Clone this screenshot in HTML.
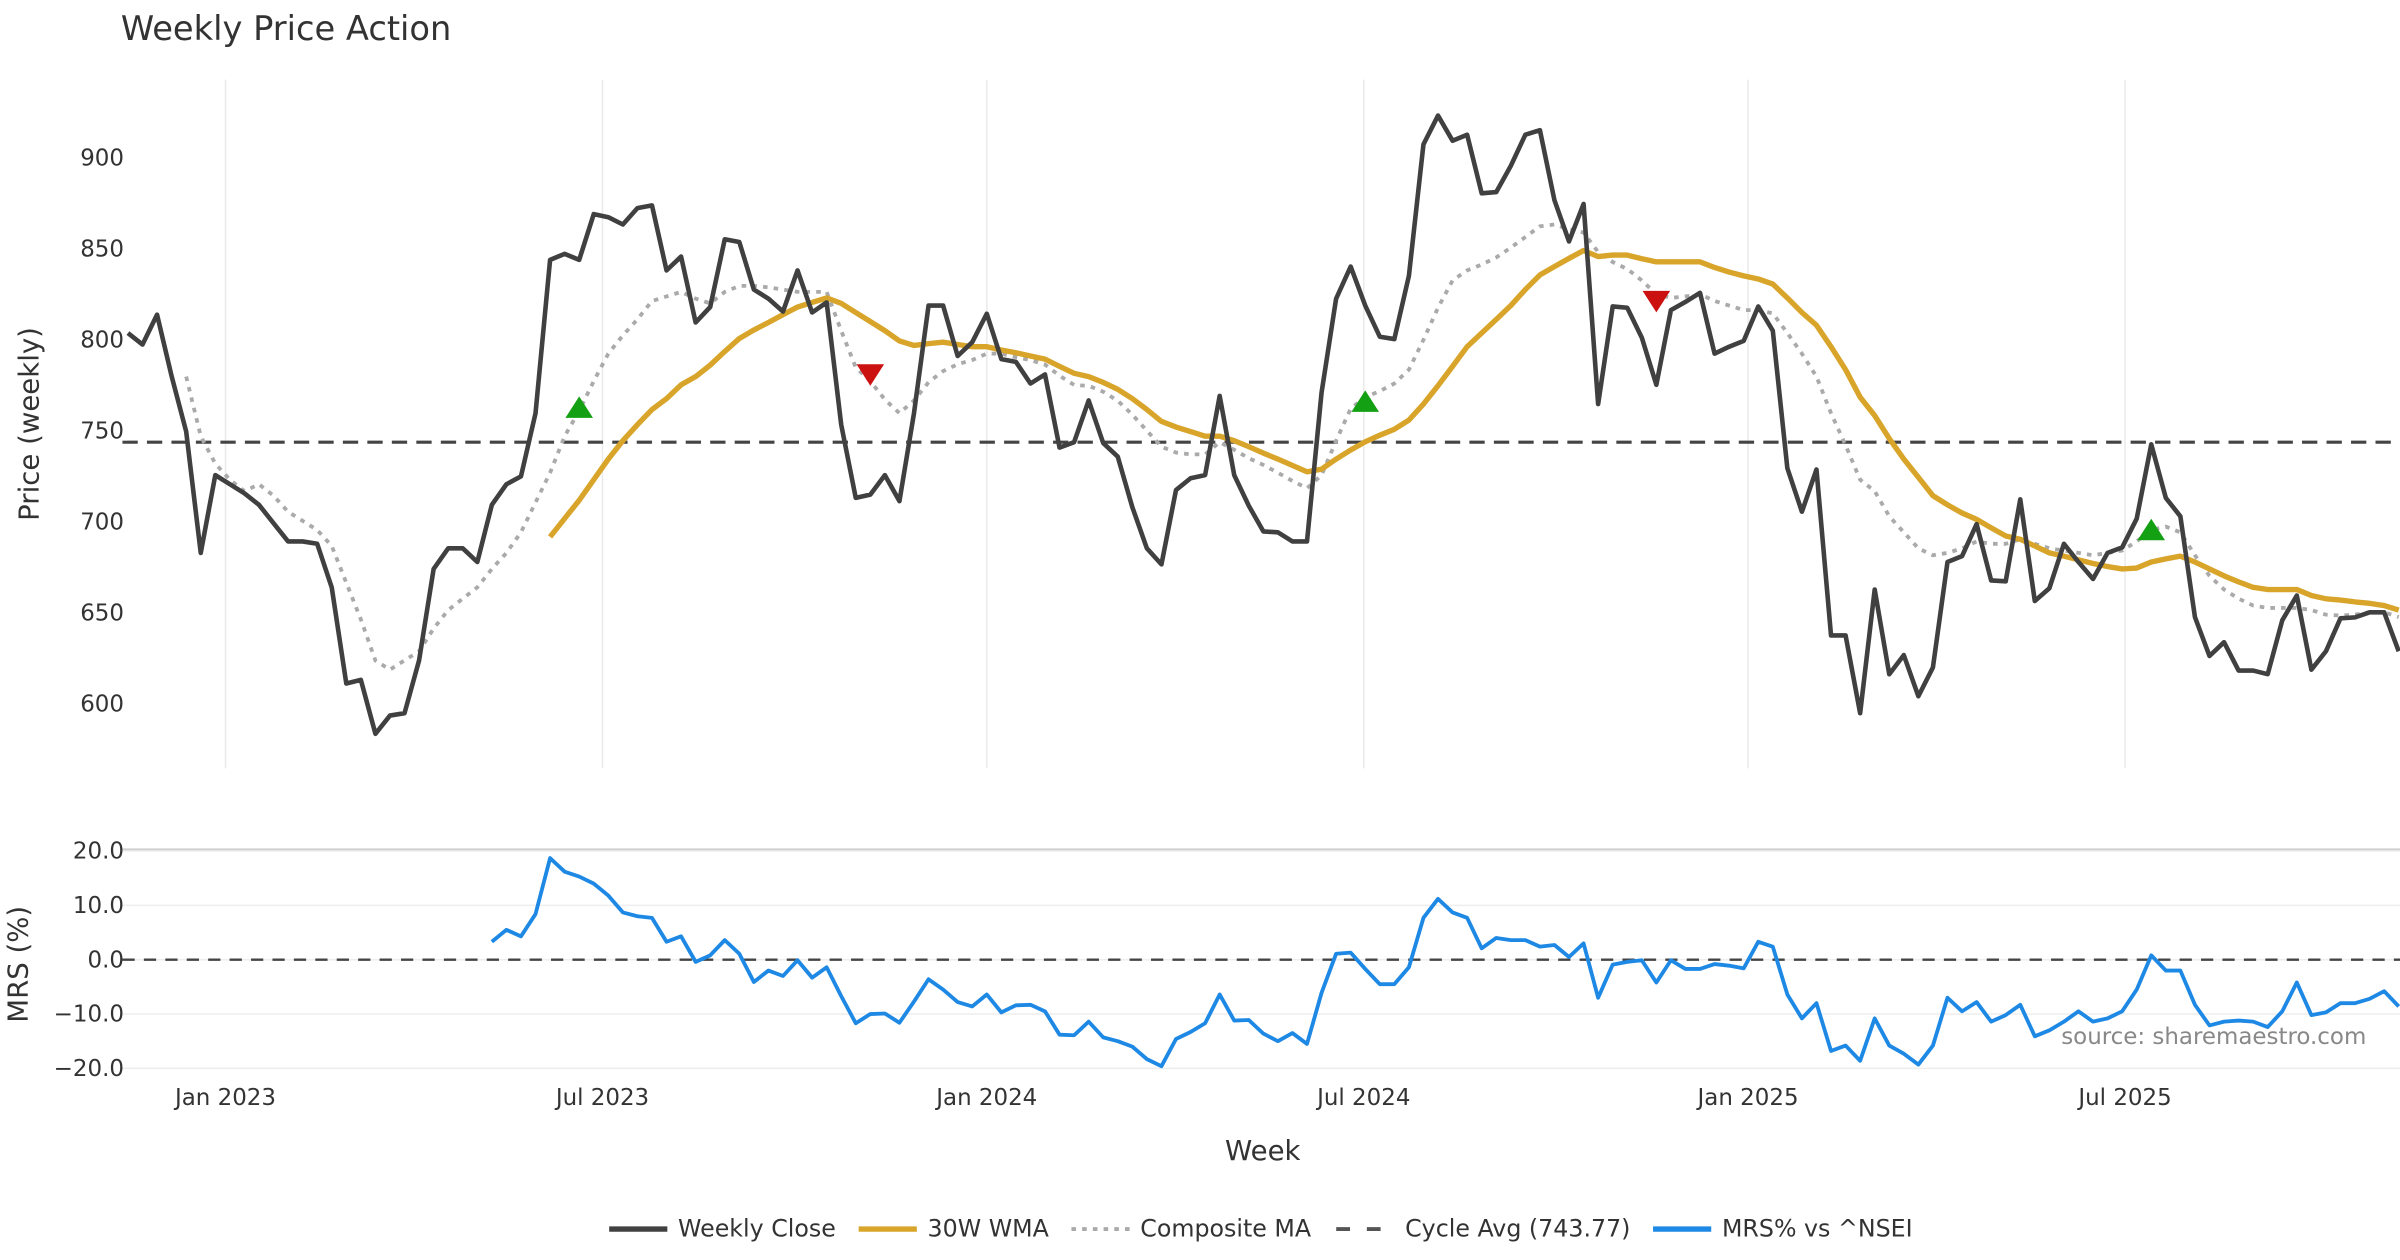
<!DOCTYPE html>
<html><head><meta charset="utf-8"><style>
html,body{margin:0;padding:0;background:#fff;}
svg{display:block;font-family:"DejaVu Sans","Liberation Sans",sans-serif;}
</style></head><body>
<svg id="chart" width="2400" height="1260" viewBox="0 0 1568 823.2" xmlns="http://www.w3.org/2000/svg">
<text x="79" y="26" font-size="22" fill="#333">Weekly Price Action</text>
<g id="price-panel"></g>
<g id="mrs-panel"></g>
<text transform="translate(25,277) rotate(-90)" text-anchor="middle" font-size="18" fill="#333">Price (weekly)</text>
<text transform="translate(18,630) rotate(-90)" text-anchor="middle" font-size="18" fill="#333">MRS (%)</text>
<text x="825" y="758" text-anchor="middle" font-size="18" fill="#333">Week</text>
<text x="1546" y="682" text-anchor="end" font-size="15" fill="#888">source: sharemaestro.com</text>
<g id="legend"></g>
</svg>
<script>
const closeValues=[803.7,797.4,813.8,780,749.6,683,725.7,720.7,715.7,709.4,699.3,689.3,689.3,688,664,611.3,613.3,583.7,593.7,595,624,674.2,685.5,685.5,678,709.4,720.7,725,759.7,843.9,847.2,843.9,869,867.3,863.3,872.3,873.8,838.1,845.7,809.5,818,855.2,853.7,827.6,822.6,815.5,838.1,815,820.5,753.4,713.2,715,725.7,711.4,
759.7,818.8,818.8,791.1,798.7,814.3,789.4,787.9,776,781,740.8,743.8,766.7,743.3,735.8,708.1,685.5,676.7,717.5,724,725.7,769.2,725.7,708.9,694.8,694.3,689.3,689.3,771,822.6,840.2,818.8,801.7,800.4,835.1,907.3,923.1,909.3,912.6,880.4,881.1,895.5,912.6,915.1,876.6,854,874.6,764.7,818.3,817.6,801.2,
775.3,816.3,820.8,825.8,792.4,796.2,799.4,818.3,805,729.5,705.6,728.8,637.7,637.7,595,662.9,616.4,626.9,604.3,620.1,678,681.2,698.8,667.9,667.4,712.4,656.6,663.6,688,678,668.7,683,686,701.8,742.6,713.2,703.1,647.8,626.4,634,618.4,618.4,616.4,646,659.6,618.9,629,647.1,647.6,650.4,650.4,629];
const wmaStart=29;
const wmaValues=[691.8,701.9,711.9,723.2,734.5,744.6,753.4,761.7,767.7,775.3,779.8,786.1,793.6,800.7,805.4,809.5,813.8,818,820.5,823,820,815,810,805,799.4,
796.9,797.9,798.7,797.4,796.2,796.2,794.4,792.9,791.1,789.4,785.4,781.6,779.8,776.6,772.8,767.7,761.7,755.2,752.1,749.6,747.1,747.1,744.6,741.3,737.8,734.5,731,727.5,729,734.5,739.5,744,747.6,750.9,755.9,764.7,774.8,785.4,796.2,803.7,811.2,818.8,827.6,835.6,840.2,844.7,849,845.7,846.5,846.5,844.5,
842.8,842.8,842.8,842.8,839.7,837.2,835.1,833.4,830.6,823,815,808,796.2,783.6,768.5,758.4,745.8,734.5,724.5,714.4,709.4,704.9,701.4,696.8,692.3,690.5,686.8,683,681.2,679.2,677.2,675.5,674.2,674.7,678,679.7,681.2,678,674.2,670.4,667.1,664.1,662.9,662.9,662.9,659.6,657.8,657.1,656.1,655.3,654.1,651.6];
const compStart=4;
const compValues=[779.8,747.1,732,723.2,716.9,720.7,714.4,705.6,700.6,695.6,686.8,666.6,646.5,623.9,618.9,624,629,641.5,651.6,657.9,664.1,674.2,683,694.3,710.7,727,747.1,761,777.3,792.4,802.4,811.2,821.3,823.8,826.3,822.6,820,826.3,829.6,829.6,828.8,827.6,826.3,826.3,826.3,805,784.8,777.3,767.2,759.7,
766.7,776.7,782.8,786.6,788.9,792.4,792.4,790.4,788.9,786.4,780.3,775.2,774.7,771.5,766.5,758.9,750.1,741.3,738.1,737.1,737.1,743.8,739.6,735,731.3,727,722.5,718.5,725.7,744.6,762.2,768.5,771.8,776,783.6,800,817.6,832.6,838.1,841.3,845.2,850.6,856.4,862.3,863.3,860.7,858.9,848.2,842.7,838.9,832.6,
825,823,823.8,825,821.3,818.8,816.3,816.3,814.5,803.7,792.4,779.8,759.7,742.1,723.2,716.9,703.1,694.3,685.5,681.7,683,685.5,689.3,688,688,690.5,688,685.5,684.3,683,681.7,683,684.3,689.3,695.6,697.4,694.3,681.7,670.4,662.9,657.9,654.1,652.8,652.8,652.8,651.6,649.1,648.6,649.1,650.4,650.4,647.8];
const cycleAvg=743.77;
const buyIdx=[31,85,139];
const buyVals=[762.2,765.5,695];
const sellIdx=[51,105];
const sellVals=[781.5,821.8];
const mrsStart=25;
const mrsValues=[3.3,5.5,4.3,8.4,18.7,16.2,15.3,14.0,11.8,8.7,8.0,7.7,3.3,4.3,-0.4,0.8,3.6,1.1,-4.1,-2.0,-3.0,-0.1,-3.3,-1.4,-6.7,-11.7,-10.0,-9.9,-11.6,-7.7,-3.6,-5.5,-7.8,-8.6,-6.4,-9.7,-8.4,-8.3,-9.5,-13.8,-13.9,-11.4,-14.3,-15.0,-16.0,-18.3,-19.6,-14.6,-13.3,
-11.7,-6.4,-11.2,-11.1,-13.6,-15.0,-13.5,-15.5,-6.1,1.1,1.3,-1.7,-4.5,-4.5,-1.4,7.7,11.2,8.7,7.7,2.1,4.0,3.6,3.6,2.4,2.7,0.5,3.0,-7.0,-0.9,-0.4,-0.1,-4.2,-0.1,-1.7,-1.7,-0.8,-1.1,-1.6,3.3,2.4,-6.4,-10.8,-8.0,-16.8,-15.8,-18.6,-10.8,-15.8,-17.3,-19.3,-15.8,-7.0,-9.5,-7.8,-11.4,-10.2,-8.3,-14.1,-13.0,-11.4,-9.5,-11.4,-10.8,-9.5,-5.5,0.8,-2.0,-2.0,-8.3,-12.1,-11.4,-11.2,-11.4,-12.4,-9.5,-4.2,-10.2,-9.7,-8.0,-8.0,-7.2,-5.8,-8.6];
const priceTicks=[600,650,700,750,800,850,900];
const mrsTicks=[20,10,0,-10,-20];
const mrsTickLabels=["20.0","10.0","0.0","\u221210.0","\u221220.0"];
const dateLabels=["Jan 2023","Jul 2023","Jan 2024","Jul 2024","Jan 2025","Jul 2025"];
const dateWeekPos=[6.7,32.6,59.0,84.9,111.3,137.2];

const NS="http://www.w3.org/2000/svg";
const X0=83.6, DX=9.51;
function xs(i){return X0+DX*i;}
function yp(v){return 103+(900-v)*1.19;}
function ym(v){return 627-v*3.55;}
function el(tag,attrs,parent){const e=document.createElementNS(NS,tag);for(const k in attrs)e.setAttribute(k,attrs[k]);parent.appendChild(e);return e;}
const pp=document.getElementById('price-panel');
const mp=document.getElementById('mrs-panel');
const lg=document.getElementById('legend');

dateWeekPos.forEach((w,k)=>{
  const x=xs(w);
  const g=el('line',{x1:x,x2:x,y1:52,y2:502,stroke:'#ebebeb','stroke-width':1},pp);
  
  
  const t=el('text',{x:x,y:722,'text-anchor':'middle','font-size':15,fill:'#333'},mp);
  t.textContent=dateLabels[k];
  
  
});
priceTicks.forEach(v=>{
  const t=el('text',{x:81,y:yp(v)+5,'text-anchor':'end','font-size':15,fill:'#333'},pp);
  t.textContent=v;
  
  
});
function pathFrom(vals,start,yf){return vals.map((v,i)=>(i?'L':'M')+xs(start+i).toFixed(2)+' '+yf(v).toFixed(2)).join(' ');}
const cyc=el('line',{x1:80,x2:1568,y1:yp(cycleAvg),y2:yp(cycleAvg),stroke:'#444','stroke-width':2,'stroke-dasharray':'10 6'},pp);


const cp=el('path',{d:pathFrom(compValues,compStart,yp),fill:'none',stroke:'#aaaaaa','stroke-width':2.5,'stroke-dasharray':'3 4'},pp);


const wp=el('path',{d:pathFrom(wmaValues,wmaStart,yp),fill:'none',stroke:'#d8a52a','stroke-width':3.5,'stroke-linejoin':'round'},pp);


const clp=el('path',{d:pathFrom(closeValues,0,yp),fill:'none',stroke:'#404040','stroke-width':3,'stroke-linejoin':'round'},pp);


buyIdx.forEach((i,k)=>{
  const x=xs(i),y=yp(buyVals[k]);
  const m=el('polygon',{points:`${x-9},${y+6} ${x+9},${y+6} ${x},${y-8}`,fill:'#13a013'},pp);
  
  
});
sellIdx.forEach((i,k)=>{
  const x=xs(i),y=yp(sellVals[k]);
  const m=el('polygon',{points:`${x-9},${y-6} ${x+9},${y-6} ${x},${y+8}`,fill:'#cc1111'},pp);
  
  
});

const topl=el('line',{x1:80,x2:1568,y1:555,y2:555,stroke:'#cfcfcf','stroke-width':1.5},mp);


mrsTicks.forEach((v,k)=>{
  const g=el('line',{x1:80,x2:1568,y1:ym(v),y2:ym(v),stroke:'#eeeeee','stroke-width':1},mp);
  
  
  const t=el('text',{x:81,y:ym(v)+5,'text-anchor':'end','font-size':15,fill:'#333'},mp);
  t.textContent=mrsTickLabels[k];
  
  
});
const zl=el('line',{x1:80,x2:1568,y1:ym(0),y2:ym(0),stroke:'#444','stroke-width':1.5,'stroke-dasharray':'8 6'},mp);


const mrl=el('path',{d:pathFrom(mrsValues,mrsStart,ym),fill:'none',stroke:'#1e88e5','stroke-width':2.5,'stroke-linejoin':'round'},mp);



const legItems=[
 {x:398,label:'Weekly Close',stroke:'#404040',w:3.5,dash:''},
 {x:561,label:'30W WMA',stroke:'#d8a52a',w:3.5,dash:''},
 {x:700,label:'Composite MA',stroke:'#aaaaaa',w:2.5,dash:'3 4'},
 {x:873,label:'Cycle Avg (743.77)',stroke:'#555',w:2.5,dash:'9 11'},
 {x:1080,label:'MRS% vs ^NSEI',stroke:'#1e88e5',w:3.5,dash:''}
];
legItems.forEach(it=>{
  const g=el('g',{},lg);
  
  
  const a={x1:it.x,x2:it.x+38,y1:803,y2:803,stroke:it.stroke,'stroke-width':it.w};
  if(it.dash)a['stroke-dasharray']=it.dash;
  el('line',a,g);
  const t=el('text',{x:it.x+45,y:808,'font-size':15.5,fill:'#333'},g);
  t.textContent=it.label;
});
</script>
</body></html>
